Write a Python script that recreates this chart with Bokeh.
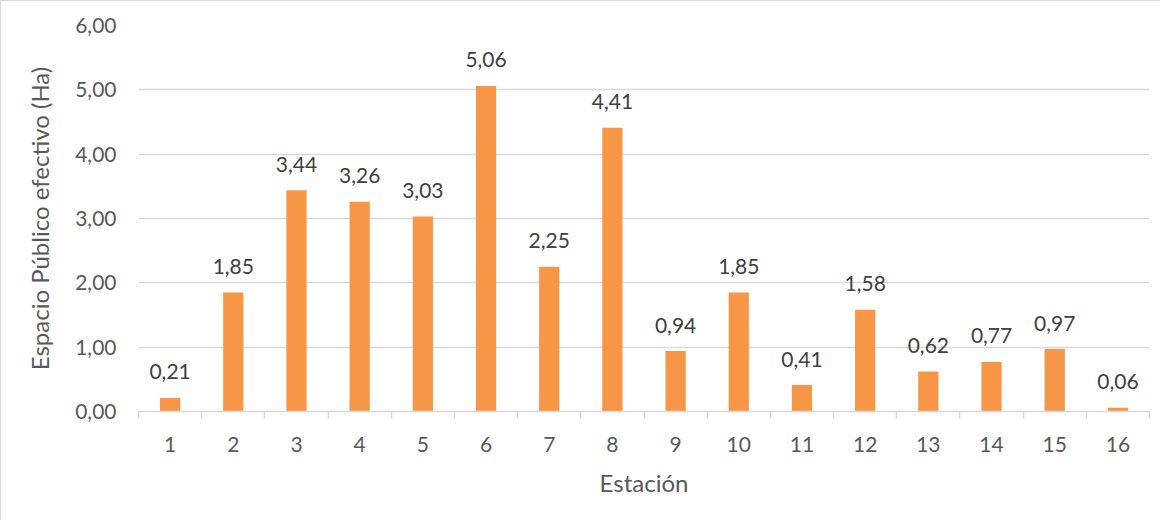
from bokeh.plotting import figure
from bokeh.models import ColumnDataSource, FixedTicker, Range1d
from bokeh.core.properties import value
from bokeh.embed import file_html
from bokeh.resources import INLINE

# ---- data ----
stations = ["1", "2", "3", "4", "5", "6", "7", "8", "9", "10", "11", "12", "13", "14", "15", "16"]
area_ha = [0.21, 1.85, 3.44, 3.26, 3.03, 5.06, 2.25, 4.41, 0.94, 1.85, 0.41, 1.58, 0.62, 0.77, 0.97, 0.06]
y_ticks = [0, 1, 2, 3, 4, 5, 6]
y_tick_labels = ["0,00", "1,00", "2,00", "3,00", "4,00", "5,00", "6,00"]

FONT = "Lato"
TXT = "#595959"
GRID = "#D9D9D9"
BAR = "#F79646"

n = len(stations)
xs = list(range(1, n + 1))
labels = [f"{v:.2f}".replace(".", ",") for v in area_ha]
src = ColumnDataSource(dict(x=xs, top=area_ha, label=labels))

p = figure(width=1160, height=520, output_backend="svg", toolbar_location=None,
           x_range=Range1d(0.5, n + 0.5), y_range=Range1d(y_ticks[0], y_ticks[-1]),
           min_border_left=137, min_border_right=12, min_border_top=24, min_border_bottom=110,
           background_fill_color="white", border_fill_color="white")
p.styles = {"border-left": "1px solid #D9D9D9", "border-top": "1px solid #D9D9D9"}
p.outline_line_color = None

p.vbar(x="x", top="top", width=0.32, source=src, fill_color=BAR, line_color=None)
p.text(x="x", y="top", text="label", source=src, text_align="center",
       text_baseline="alphabetic", y_offset=-26, text_font=value(FONT),
       text_font_size="21px", text_color="#404040")

# x axis
xa = p.xaxis[0]
xa.ticker = FixedTicker(ticks=xs, minor_ticks=[i + 0.5 for i in range(0, n + 1)])
xa.major_label_overrides = {i: s for i, s in zip(xs, stations)}
xa.major_tick_line_color = None
xa.minor_tick_in = 0
xa.minor_tick_out = 7
xa.minor_tick_line_color = GRID
xa.minor_tick_line_width = 1.5
xa.axis_line_color = GRID
xa.axis_line_width = 1.5
xa.major_label_standoff = 18
xa.major_label_text_font = FONT
xa.major_label_text_font_size = "21px"
xa.major_label_text_color = TXT
xa.axis_label = "Estación"
xa.axis_label_text_font = FONT
xa.axis_label_text_font_size = "24px"
xa.axis_label_text_font_style = "normal"
xa.axis_label_text_color = TXT
xa.axis_label_standoff = 13
p.xgrid.grid_line_color = None

# y axis
ya = p.yaxis[0]
ya.ticker = FixedTicker(ticks=y_ticks)
ya.major_label_overrides = dict(zip(y_ticks, y_tick_labels))
ya.axis_line_color = None
ya.major_tick_line_color = None
ya.minor_tick_line_color = None
ya.major_label_standoff = 16
ya.major_label_text_font = FONT
ya.major_label_text_font_size = "21px"
ya.major_label_text_color = TXT
ya.axis_label = "Espacio Público efectivo (Ha)"
ya.axis_label_text_font = FONT
ya.axis_label_text_font_size = "24px"
ya.axis_label_text_font_style = "normal"
ya.axis_label_text_color = TXT
ya.axis_label_standoff = 18
p.ygrid.grid_line_color = GRID
p.ygrid.grid_line_width = 1.5

open("out.html", "w").write(file_html(p, INLINE))
